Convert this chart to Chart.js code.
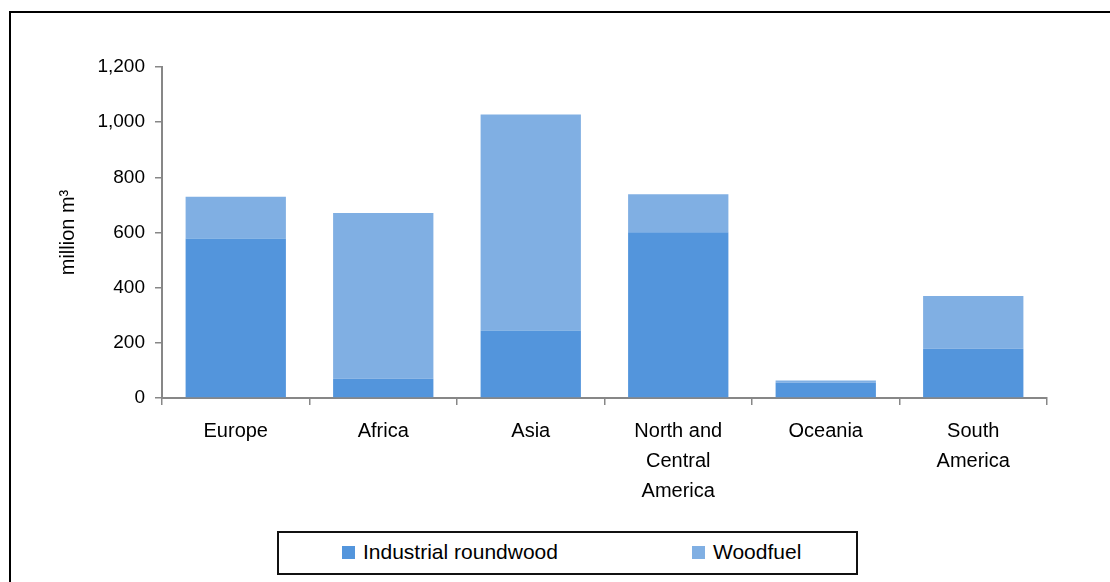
<!DOCTYPE html>
<html>
<head>
<meta charset="utf-8">
<script src="https://cdn.jsdelivr.net/npm/chart.js@4.4.1/dist/chart.umd.min.js"></script>
<style>
  body { margin: 0; background: #fff; overflow: hidden; }
  #frame {
    position: absolute; left: 9px; top: 11px; width: 1300px; height: 800px;
    border: 2px solid #000; box-sizing: border-box;
  }
  #wrap { position: absolute; left: 0; top: 0; width: 1110px; height: 582px; }
  #legend {
    position: absolute; left: 277px; top: 531px; width: 581px; height: 44px;
    border: 2px solid #111; box-sizing: border-box; background: #fff;
    font-family: "Liberation Sans", Arial, sans-serif; font-size: 21px; color: #000;
  }
  .item { position: absolute; top: -1px; height: 40px; display: flex; align-items: center; }
  .swatch { width: 13px; height: 13px; margin-right: 8px; }
</style>
</head>
<body>
<div id="frame"></div>
<div id="wrap"><canvas id="chart"></canvas></div>
<div id="legend"></div>
<script>
const regions = [
  "Europe",
  "Africa",
  "Asia",
  ["North and", "Central", "America"],
  "Oceania",
  ["South", "America"],
];
const industrialRoundwood = [578, 70, 245, 601, 55, 179];
const woodfuel = [152, 601, 783, 138, 8, 191];
const yTicks = [0, 200, 400, 600, 800, 1000, 1200];

const DARK_BLUE = "rgb(83,149,220)";
const LIGHT_BLUE = "rgb(128,175,227)";
const AXIS_GREY = "#878787";
const FONT = "'Liberation Sans', Arial, sans-serif";

const ctx = document.getElementById("chart");

const chart = new Chart(ctx, {
  type: "bar",
  data: {
    labels: regions,
    datasets: [
      {
        label: "Industrial roundwood",
        data: industrialRoundwood,
        backgroundColor: DARK_BLUE,
      },
      {
        label: "Woodfuel",
        data: woodfuel,
        backgroundColor: LIGHT_BLUE,
      },
    ],
  },
  options: {
    responsive: true,
    maintainAspectRatio: false,
    animation: false,
    layout: {
      padding: { left: 39, right: 63, top: 67, bottom: 74 },
    },
    plugins: {
      legend: { display: false },
      tooltip: { enabled: false },
    },
    datasets: {
      bar: { categoryPercentage: 1, barPercentage: 0.68 },
    },
    scales: {
      x: {
        stacked: true,
        afterFit: (scale) => {
          scale.height = 110;
        },
        grid: {
          drawOnChartArea: false,
          drawTicks: true,
          tickLength: 7,
          color: AXIS_GREY,
          lineWidth: 1.5,
        },
        border: { color: AXIS_GREY, width: 2 },
        ticks: {
          color: "#000",
          padding: 11,
          maxRotation: 0,
          autoSkip: false,
          font: { family: FONT, size: 20, lineHeight: "30px" },
        },
      },
      y: {
        stacked: true,
        min: yTicks[0],
        max: yTicks[yTicks.length - 1],
        afterFit: (scale) => {
          scale.width = 123;
        },
        afterBuildTicks: (scale) => {
          scale.ticks = yTicks.map((v) => ({ value: v }));
        },
        grid: {
          drawOnChartArea: false,
          drawTicks: true,
          tickLength: 7,
          color: AXIS_GREY,
          lineWidth: 1.5,
        },
        border: { color: AXIS_GREY, width: 2 },
        ticks: {
          color: "#000",
          padding: 10,
          font: { family: FONT, size: 19 },
        },
        title: {
          display: true,
          text: "million m³",
          color: "#000",
          padding: { top: 17, bottom: 0 },
          font: { family: FONT, size: 20 },
        },
      },
    },
  },
});

// legend box built from the chart's own datasets
const legendX = [63, 413];
const legendEl = document.getElementById("legend");
chart.data.datasets.forEach((ds, i) => {
  const item = document.createElement("div");
  item.className = "item";
  item.style.left = legendX[i] + "px";
  const sw = document.createElement("span");
  sw.className = "swatch";
  sw.style.background = ds.backgroundColor;
  const txt = document.createElement("span");
  txt.textContent = ds.label;
  item.appendChild(sw);
  item.appendChild(txt);
  legendEl.appendChild(item);
});
</script>
</body>
</html>
